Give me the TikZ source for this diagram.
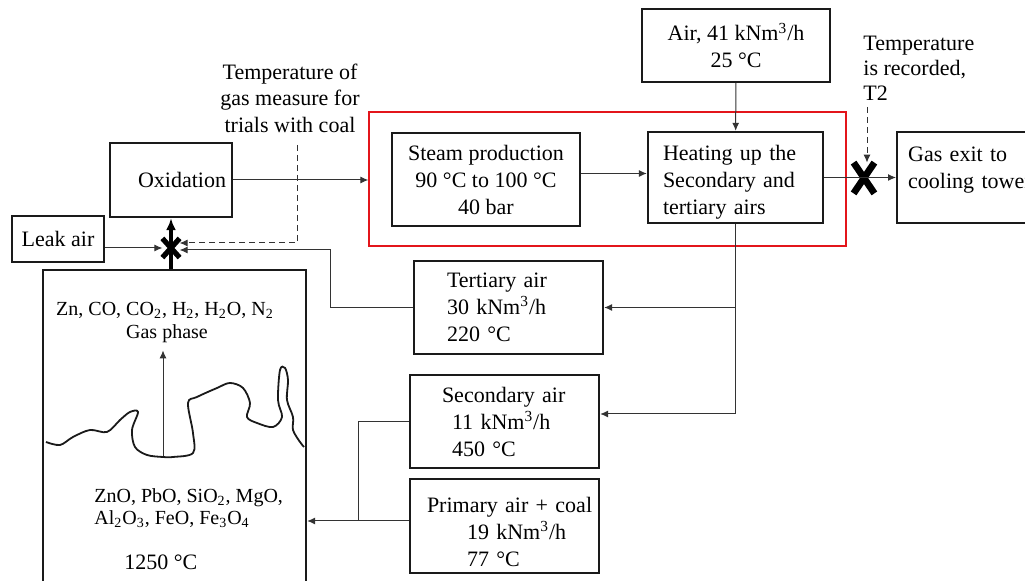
\documentclass[tikz,border=0pt]{standalone}
\usepackage{fontspec}
\setmainfont{Liberation Serif}
\usetikzlibrary{arrows.meta,positioning,fit,calc,shapes.misc}
\definecolor{plantink}{HTML}{1A1A1A}
\definecolor{flowgrey}{HTML}{333333}
\definecolor{zonered}{HTML}{E3151B}
\tikzset{
  procbox/.style={
    draw=plantink,
    line width=1.2pt,
    inner sep=0pt,
    align=center,
    font=\fontsize{11}{13.5}\selectfont
  },
  airbox/.style={
    procbox,
    align=left
  },
  notetext/.style={
    inner sep=0pt,
    font=\fontsize{11}{13.25}\selectfont
  },
  chemtext/.style={
    inner sep=1pt,
    font=\fontsize{10}{10}\selectfont
  },
  zone/.style={
    draw=zonered,
    line width=1pt
  },
  crossmark/.style={
    cross out,
    draw=black,
    line width=2.6pt,
    inner sep=0pt
  },
  flow/.style={
    -{Latex[length=4pt,width=3.5pt]},
    line width=0.5pt,
    draw=flowgrey
  },
  mainflow/.style={
    -{Latex[length=6pt,width=5pt]},
    line width=1.6pt,
    draw=black
  },
  probe/.style={
    flow,
    dash pattern=on 3pt off 2pt
  }
}

\begin{document}
\begin{tikzpicture}[x=0.5pt, y=-0.5pt]
\path[use as bounding box, clip] (0,0) rectangle (1025,581);
\node[procbox, minimum width=61pt, minimum height=37pt, inner xsep=3pt, text width=55pt, align=right] (oxid) at (171,180) {Oxidation};
\node[procbox, minimum width=46pt, minimum height=23pt] (leak) at (58,239) {Leak air};
\node[procbox, minimum width=131.5pt, minimum height=170pt, anchor=north] (furnace) at (174.5,269) {};
\node[airbox, minimum width=94.5pt, minimum height=46.5pt, inner xsep=16.5pt, text width=61.5pt] (tert) at (508.5,307.5) {Tertiary air\\30 kNm\textsuperscript{3}/h\\220 °C};
\node[airbox, minimum width=94.5pt, minimum height=46.5pt, inner xsep=16pt, text width=62.5pt] (secondary) at (504.5,421.5) {Secondary air\\\hspace*{5pt}11 kNm\textsuperscript{3}/h\\\hspace*{5pt}450 °C};
\node[airbox, minimum width=94.5pt, minimum height=47pt, inner xsep=8.5pt, text width=77.5pt] (primary) at (504.5,526) {\rule{0pt}{13.5pt}\mbox{Primary air + coal}\\\hspace*{20pt}19 kNm\textsuperscript{3}/h\\\hspace*{20pt}77 °C};
\node[procbox, minimum width=94pt, minimum height=46.5pt] (steam) at (486,179.5) {Steam production\\90 °C to 100 °C\\40 bar};
\node[airbox, minimum width=87.5pt, minimum height=45.5pt, inner xsep=7.5pt, text width=72.5pt] (heat) at (735.5,177.5) {\rule{0pt}{12.5pt}Heating up the\\Secondary and\\tertiary airs};
\node[procbox, minimum width=94pt, minimum height=36.5pt] (air) at (736,45.5) {Air, 41 kNm\textsuperscript{3}/h\\25 °C};
\node[airbox, minimum width=102pt, minimum height=45.5pt, inner xsep=5pt, text width=91pt, anchor=west] (gasexit) at (896,177.5) {\rule{0pt}{11pt}Gas exit to\\cooling tower\\\mbox{}};
\node[zone, fit=(steam)(heat), inner xsep=10.75pt, inner ysep=9.5pt] (hx) {};
\node[notetext, align=center] (coalnote) at (290,98) {Temperature of\\gas measure for\\trials with coal};
\node[notetext, align=left, anchor=west, font=\fontsize{11}{12.5}\selectfont] (t2note) at (863,68) {Temperature\\is recorded,\\T2};
\node[chemtext] (gasline) at (165,310) {Zn, CO, CO\textsubscript{2}, H\textsubscript{2}, H\textsubscript{2}O, N\textsubscript{2}};
\node[chemtext] (gasphase) at (167,334) {Gas phase};
\node[chemtext, anchor=west] (oxline1) at (92,498) {ZnO, PbO, SiO\textsubscript{2}, MgO,};
\node[chemtext, anchor=west] (oxline2) at (92,519) {Al\textsubscript{2}O\textsubscript{3}, FeO, Fe\textsubscript{3}O\textsubscript{4}};
\node[notetext, anchor=west] (bathtemp) at (124,562) {1250 °C};
\node[crossmark, minimum width=6pt, minimum height=7pt] (mixpt) at (171,248) {};
\node[crossmark, minimum width=7pt, minimum height=12pt, line width=3.4pt] (exitpt) at (864,178) {};
\coordinate (melt) at (163,456);
\coordinate (coalprobe) at (297,145);
\coordinate (t2probe) at (867,107);
\coordinate (tbend) at (330,250);
\coordinate (sbend) at (358,521);
\draw[line width=0.9pt, draw=plantink] plot[smooth, tension=0.55] coordinates {
  (46,442) (60,445) (73,437) (90,430) (107,432) (120,420) (130,412) (138,412)
  (132,430) (135,447) (147,455) (163,457) (173,457) (193,453) (193,433) (188,403)
  (197,397) (217,388) (230,383) (243,388) (250,403) (247,417) (257,423) (273,427)
  (282,417) (278,400) (280,370) (285,368) (288,380) (287,400) (293,417) (293,430)
  (300,442) (304,447)};
\draw[flow, shorten >=2.5pt] (melt) -- (melt |- gasphase.south);
\draw[mainflow] (mixpt |- furnace.north) -- (oxid.south);
\draw[flow] (leak.east |- mixpt.west) -- (mixpt.west);
\draw[probe] (coalprobe) |- ([yshift=2.5pt]mixpt.east);
\draw[flow] (tert.west) -| (tbend) -- (tbend -| mixpt.east);
\draw[flow] (oxid.east) -- (oxid.east -| hx.west);
\draw[flow] ([yshift=3pt]steam.east) -- ([yshift=3pt]steam.east -| heat.west);
\draw[flow] (air) -- (heat);
\draw[flow] (heat.east) -- (heat.east -| gasexit.west);
\draw[probe] (t2probe) -- (t2probe |- exitpt.north);
\draw[flow] (heat.south) |- (tert.east);
\draw[flow] (heat.south) |- ([yshift=3.75pt]secondary.east);
\draw[line width=0.5pt, draw=flowgrey] (secondary.west) -| (sbend);
\draw[flow] ([yshift=2.5pt]primary.west) -- ([yshift=2.5pt]primary.west -| furnace.east);
\end{tikzpicture}
\end{document}
